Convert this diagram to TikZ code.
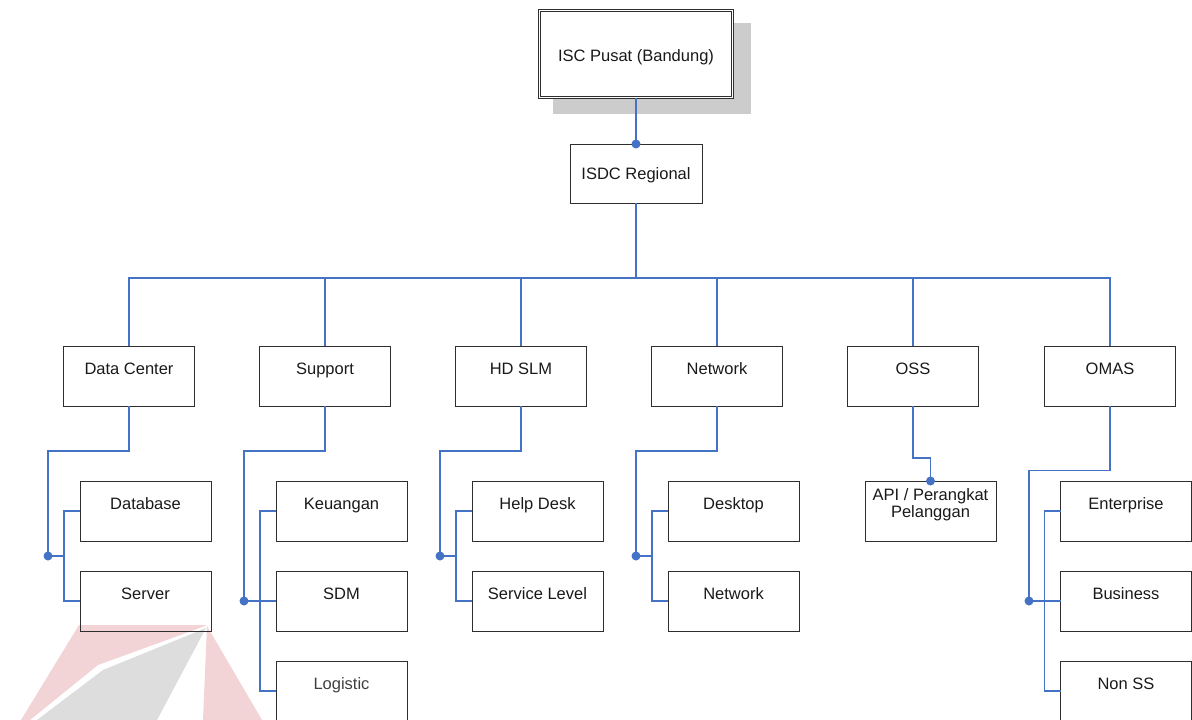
\documentclass[tikz,border=0pt]{standalone}
\usepackage{fontspec}
\setmainfont{Liberation Sans}
\definecolor{linec}{HTML}{4472C4}
\definecolor{wpink}{HTML}{F2D3D6}
\definecolor{wgray}{HTML}{DDDDDD}
\begin{document}
\begin{tikzpicture}[x=1pt,y=-1pt,
  box/.style={draw=black!82, line width=1pt, minimum width=131pt, minimum height=60pt, inner sep=0pt, outer sep=0pt},
  lbl/.style={font=\fontsize{16.5}{17}\selectfont, text=black!90, anchor=base, inner sep=0pt, align=center},
  conn/.style={draw=linec, line width=1.1pt},
  jdot/.style={fill=linec}]
\useasboundingbox (0,0) rectangle (1192,720);
% watermark
\fill[wpink] (79,625) -- (207,625) -- (197,629) -- (98,665) -- (30,720) -- (21,720) -- cycle;
\fill[wpink] (207,626) -- (262,720) -- (203,720) -- cycle;
\fill[wgray] (206,628) -- (103,670) -- (37,720) -- (157,720) -- cycle;
% top
\fill[black!20] (553,23) rectangle (751,114);
\node[box, fill=white, double, double distance=1.6pt, line width=0.9pt, minimum width=193pt, minimum height=87pt] (isc) at (636,54) {};
\node[lbl] (isct) at (636,61) {ISC Pusat (Bandung)};
\node[box, minimum width=132pt, minimum height=59pt] (isdc) at (636,173.5) {};
\node[lbl] (isdct) at (636,179) {ISDC Regional};
\draw[conn] (isc.south) -- (isdc.north);
\fill[jdot] (isdc.north) circle (4.5);
% level 2
\node[box] (dc) at (129,376) {};
\node[box] (sp) at (325,376) {};
\node[box] (hd) at (521,376) {};
\node[box] (nw) at (717,376) {};
\node[box] (oss) at (913,376) {};
\node[box] (om) at (1110,376) {};
\node[lbl] (dct) at ([yshift=-28pt]dc.north) {Data Center};
\node[lbl] (spt) at ([yshift=-28pt]sp.north) {Support};
\node[lbl] (hdt) at ([yshift=-28pt]hd.north) {HD SLM};
\node[lbl] (nwt) at ([yshift=-28pt]nw.north) {Network};
\node[lbl] (osst) at ([yshift=-28pt]oss.north) {OSS};
\node[lbl] (omt) at ([yshift=-28pt]om.north) {OMAS};
\coordinate (bus) at (636,278);
\draw[conn] (isdc.south) -- (bus);
\foreach \n in {dc,sp,hd,nw,oss,om} \draw[conn] (bus) -| (\n.north);
% level 3
\node[box] (db) at (145.5,511) {};
\node[box] (sv) at (145.5,601) {};
\node[box] (keu) at (341.5,511) {};
\node[box] (sdm) at (341.5,601) {};
\node[box] (lg) at (341.5,691) {};
\node[box] (hdk) at (537.5,511) {};
\node[box] (svl) at (537.5,601) {};
\node[box] (dsk) at (733.5,511) {};
\node[box] (nt2) at (733.5,601) {};
\node[box] (api) at (930.5,511) {};
\node[box] (ent) at (1126,511) {};
\node[box] (bus2) at (1126,601) {};
\node[box] (nss) at (1126,691) {};
\node[lbl] (dbt) at ([yshift=-28pt]db.north) {Database};
\node[lbl] (svt) at ([yshift=-28pt]sv.north) {Server};
\node[lbl] (keut) at ([yshift=-28pt]keu.north) {Keuangan};
\node[lbl] (sdmt) at ([yshift=-28pt]sdm.north) {SDM};
\node[lbl, text=black!75] (lgt) at ([yshift=-28pt]lg.north) {Logistic};
\node[lbl] (hdkt) at ([yshift=-28pt]hdk.north) {Help Desk};
\node[lbl] (svlt) at ([yshift=-28pt]svl.north) {Service Level};
\node[lbl] (dskt) at ([yshift=-28pt]dsk.north) {Desktop};
\node[lbl] (nt2t) at ([yshift=-28pt]nt2.north) {Network};
\node[lbl] (apit) at ([yshift=-36pt]api.north) {API / Perangkat\\Pelanggan};
\node[lbl] (entt) at ([yshift=-28pt]ent.north) {Enterprise};
\node[lbl] (bus2t) at ([yshift=-28pt]bus2.north) {Business};
\node[lbl] (nsst) at ([yshift=-28pt]nss.north) {Non SS};
% connectors level 3
\coordinate (dcj) at (48,556);
\draw[conn] (dc.south) -- ++(0,45) -| (dcj);
\draw[conn] (dcj) -- ++(16,0);
\draw[conn] (db.west) -- ++(-16,0) |- (sv.west);
\fill[jdot] (dcj) circle (4.5);
\coordinate (spj) at (244,601);
\draw[conn] (sp.south) -- ++(0,45) -| (spj);
\draw[conn] (spj) -- (sdm.west);
\draw[conn] (keu.west) -- ++(-16,0) |- (lg.west);
\fill[jdot] (spj) circle (4.5);
\coordinate (hdj) at (440,556);
\draw[conn] (hd.south) -- ++(0,45) -| (hdj);
\draw[conn] (hdj) -- ++(16,0);
\draw[conn] (hdk.west) -- ++(-16,0) |- (svl.west);
\fill[jdot] (hdj) circle (4.5);
\coordinate (nwj) at (636,556);
\draw[conn] (nw.south) -- ++(0,45) -| (nwj);
\draw[conn] (nwj) -- ++(16,0);
\draw[conn] (dsk.west) -- ++(-16,0) |- (nt2.west);
\fill[jdot] (nwj) circle (4.5);
\draw[conn] (oss.south) -- ++(0,52) -| (api.north);
\fill[jdot] (api.north) circle (4.5);
\coordinate (omj) at (1029,601);
\draw[conn] (om.south) -- ++(0,64.5) -| (omj);
\draw[conn] (omj) -- (bus2.west);
\draw[conn] (ent.west) -- ++(-16,0) |- (nss.west);
\fill[jdot] (omj) circle (4.5);
\end{tikzpicture}
\end{document}
